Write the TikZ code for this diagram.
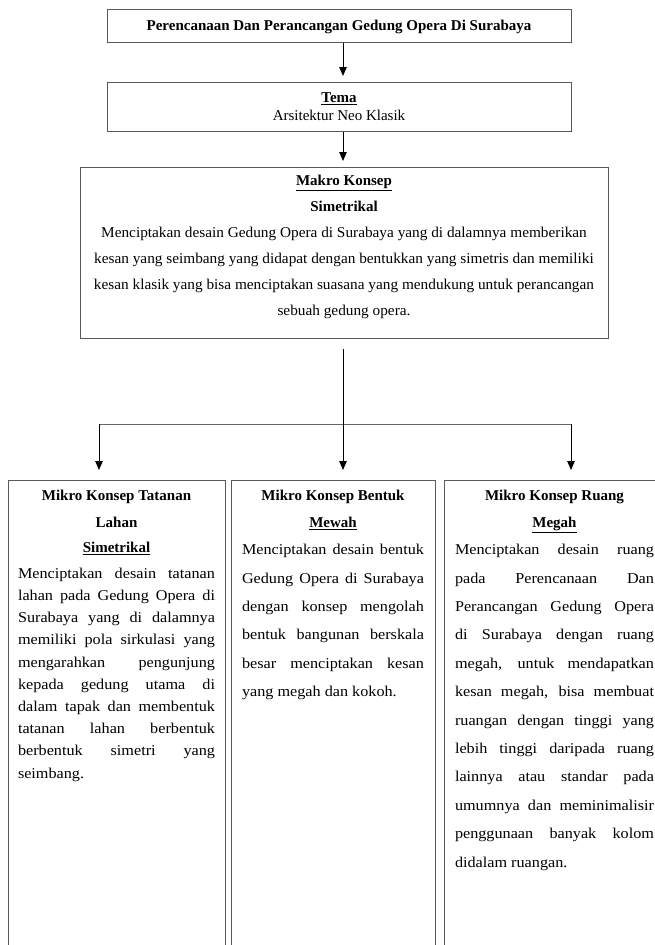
\documentclass[tikz,border=0pt]{standalone}
\usepackage{fontspec}
\setmainfont{Liberation Serif}
\newfontfamily\widefont{Liberation Serif}[FakeStretch=1.08]
\newfontfamily\makrofont{Liberation Serif}[FakeStretch=1.02]
\usetikzlibrary{arrows.meta}
\newcommand\jl[1]{\hbox to\hsize{\vrule height11pt width0pt\relax #1}}
\newcommand\lastl[1]{\hbox to\hsize{\vrule height11pt width0pt\relax #1\hfil}}
\newcommand\cl[1]{\hbox to\hsize{\hfil\vrule height11pt width0pt\relax #1\hfil}}
\begin{document}
\begin{tikzpicture}[x=1pt,y=-1pt,
  box/.style={draw=black!65, line width=1pt, inner sep=0pt, anchor=north west},
  txt/.style={inner sep=0pt, anchor=north, font=\fontsize{15}{18}\selectfont},
  arr/.style={-{Triangle[length=9pt,width=7.5pt]}, line width=1pt, black},
  link/.style={line width=1pt, black!60}]
\useasboundingbox (0,0) rectangle (655,945);
\clip (0,0) rectangle (655,945);
\fill[white] (0,0) rectangle (655,945);

\node[box, minimum width=464pt, minimum height=33pt] (top) at (107,9) {};
\node[txt, anchor=base] (toptxt) at (339,30.5) {\textbf{Perencanaan Dan Perancangan Gedung Opera Di Surabaya}};

\node[box, minimum width=464pt, minimum height=49pt] (tema) at (107,82) {};
\node[txt] (tematxt) at (339,91) {\vbox{\hsize=300pt \baselineskip=18pt
  \cl{\textbf{\underline{Tema}}}
  \cl{Arsitektur Neo Klasik}}};

\node[box, minimum width=528pt, minimum height=171pt] (makro) at (80,167) {};
\node[txt] (makrotxt) at (344,174) {\vbox{\hsize=527pt \baselineskip=24pt
  \cl{\textbf{\underline{Makro Konsep}}}
  \baselineskip=26pt
  \cl{\textbf{Simetrikal}}
  \makrofont
  \baselineskip=26pt
  \cl{Menciptakan desain Gedung Opera di Surabaya yang di dalamnya memberikan}
  \cl{kesan yang seimbang yang didapat dengan bentukkan yang simetris dan memiliki}
  \cl{kesan klasik yang bisa menciptakan suasana yang mendukung untuk perancangan}
  \cl{sebuah gedung opera.}}};

\node[box, minimum width=217.5pt, minimum height=500pt] (b1) at (7.5,480) {};
\node[box, minimum width=204pt, minimum height=500pt] (b2) at (231,480) {};
\node[box, minimum width=240pt, minimum height=500pt] (b3) at (443.5,480) {};

\node[txt] (b1txt) at (116.5,489) {\vbox{\hsize=197pt \baselineskip=27pt
  \cl{\textbf{Mikro Konsep Tatanan}}
  \cl{\textbf{Lahan}}
  \baselineskip=25pt
  \cl{\textbf{\underline{Simetrikal}}}
  \widefont
  \baselineskip=26pt
  \jl{Menciptakan desain tatanan}
  \baselineskip=22.2pt
  \jl{lahan pada Gedung Opera di}
  \jl{Surabaya yang di dalamnya}
  \jl{memiliki pola sirkulasi yang}
  \jl{mengarahkan pengunjung}
  \jl{kepada gedung utama di}
  \jl{dalam tapak dan membentuk}
  \jl{tatanan lahan berbentuk}
  \jl{berbentuk simetri yang}
  \lastl{seimbang.}}};

\node[txt] (b2txt) at (333,489) {\vbox{\hsize=182pt \baselineskip=27pt
  \cl{\textbf{Mikro Konsep Bentuk}}
  \cl{\textbf{\underline{Mewah}}}
  \widefont
  \baselineskip=27.5pt
  \jl{Menciptakan desain bentuk}
  \baselineskip=28.4pt
  \jl{Gedung Opera di Surabaya}
  \jl{dengan konsep mengolah}
  \jl{bentuk bangunan berskala}
  \jl{besar menciptakan kesan}
  \lastl{yang megah dan kokoh.}}};

\node[txt] (b3txt) at (554.5,489) {\vbox{\hsize=199pt \baselineskip=27pt
  \cl{\textbf{Mikro Konsep Ruang}}
  \cl{\textbf{\underline{Megah}}}
  \widefont
  \baselineskip=27.5pt
  \jl{Menciptakan desain ruang}
  \baselineskip=28.4pt
  \jl{pada Perencanaan Dan}
  \jl{Perancangan Gedung Opera}
  \jl{di Surabaya dengan ruang}
  \jl{megah, untuk mendapatkan}
  \jl{kesan megah, bisa membuat}
  \jl{ruangan dengan tinggi yang}
  \jl{lebih tinggi daripada ruang}
  \jl{lainnya atau standar pada}
  \jl{umumnya dan meminimalisir}
  \jl{penggunaan banyak kolom}
  \lastl{didalam ruangan.}}};

\coordinate (ax) at (343,0);
\coordinate (hl) at (99,424);
\coordinate (hr) at (571,424);
\draw[arr, shorten >=6pt] (top.south -| ax) -- (tema.north -| ax);
\draw[arr, shorten >=6pt] (tema.south -| ax) -- (makro.north -| ax);
\draw[link] (hl) -- (hr);
\draw[arr, shorten <=10pt, shorten >=10pt] (makro.south -| ax) -- (b2.north -| ax);
\draw[arr, shorten >=10pt] (hl) -- (hl |- b1.north);
\draw[arr, shorten >=10pt] (hr) -- (hr |- b3.north);
\end{tikzpicture}
\end{document}
